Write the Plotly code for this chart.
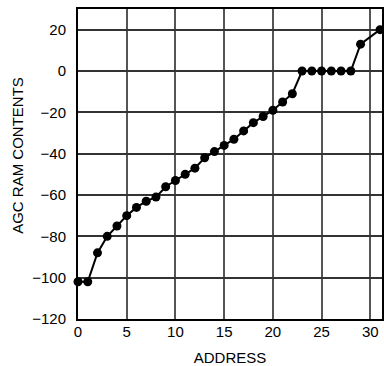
import plotly.graph_objects as go

# AGC RAM contents per address
address = [0, 1, 2, 3, 4, 5, 6, 7, 8, 9, 10, 11, 12, 13, 14, 15, 16, 17, 18, 19,
           20, 21, 22, 23, 24, 25, 26, 27, 28, 29, 31]
contents = [-102, -102, -88, -80, -75, -70, -66, -63, -61, -56, -53, -50, -47, -42,
            -39, -36, -33, -29, -25, -22, -19, -15, -11, 0, 0, 0, 0, 0, 0, 13, 20]

x_ticks = [0, 5, 10, 15, 20, 25, 30]
y_ticks = [-120, -100, -80, -60, -40, -20, 0, 20]

fig = go.Figure()
fig.add_trace(go.Scatter(
    x=address, y=contents,
    mode="lines+markers",
    line=dict(color="black", width=2),
    marker=dict(color="black", size=9),
    cliponaxis=False,
    showlegend=False,
))

font = dict(family="Liberation Sans, Arial, sans-serif", size=15, color="black")

fig.update_layout(
    width=384, height=366,
    margin=dict(l=78, r=0, t=9, b=45),
    paper_bgcolor="white",
    plot_bgcolor="white",
    font=font,
    xaxis=dict(
        range=[0, 31.2], tickvals=x_ticks, ticks="", ticklabelstandoff=-2,
        tickfont=font,
        showgrid=True, gridcolor="#555555", gridwidth=1.5,
        showline=True, linecolor="black", linewidth=2, mirror=True,
        zeroline=False,
        title=dict(text="ADDRESS", standoff=15, font=font),
    ),
    yaxis=dict(
        range=[-120, 30], tickvals=y_ticks, ticks="", ticklabelstandoff=7,
        tickfont=font,
        showgrid=True, gridcolor="#333333", gridwidth=1.5,
        showline=True, linecolor="black", linewidth=2, mirror=True,
        zeroline=False,
    ),
)

# y title sits a little above the middle of the plot in the original
fig.add_annotation(
    text="AGC RAM CONTENTS", textangle=-90, font=font,
    xref="paper", yref="paper", x=-0.2, y=0.527,
    xanchor="center", yanchor="middle", showarrow=False,
)

# drop the default page margin so the figure fills the window exactly
fig.write_html("out.html", config={"displayModeBar": False},
               post_script="document.body.style.margin='0';document.body.style.overflow='hidden';")
